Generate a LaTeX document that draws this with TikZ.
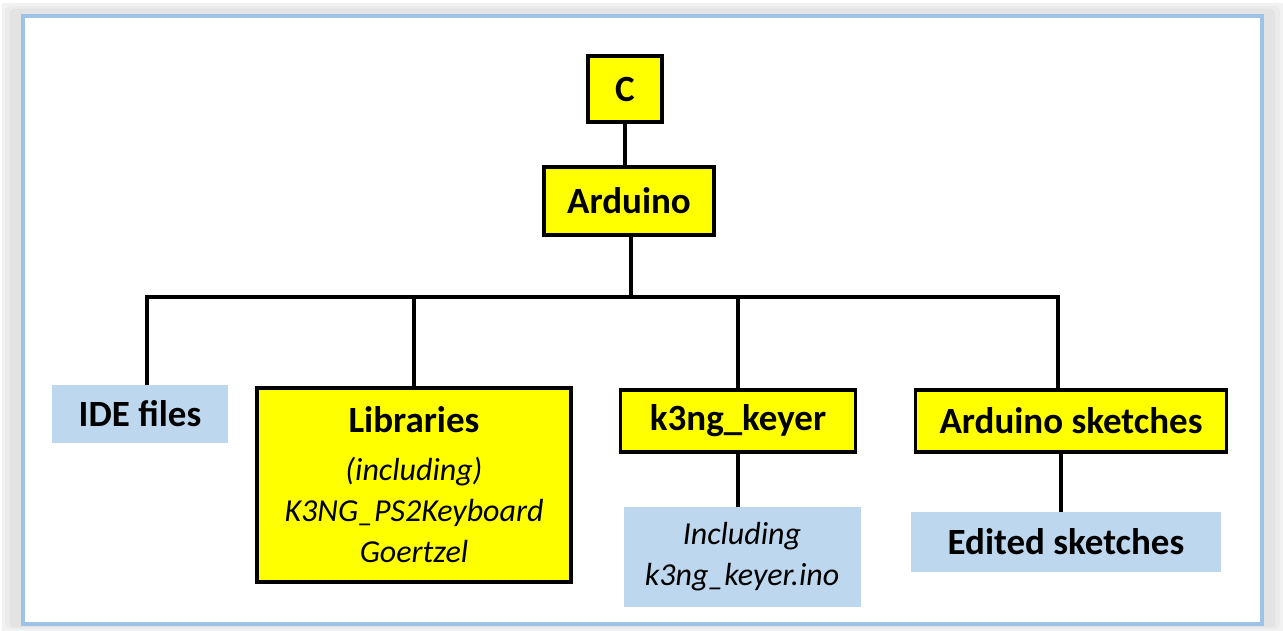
\documentclass[tikz,border=0pt]{standalone}
\usepackage{fontspec}
\setmainfont{Carlito}
\definecolor{yel}{RGB}{255,255,0}
\definecolor{lblue}{RGB}{189,215,238}
\definecolor{frameblue}{RGB}{157,195,230}
\tikzset{
  ybox/.style={draw=black, line width=3.3pt, fill=yel, inner sep=0pt, align=center,
    font=\fontsize{37}{41}\selectfont\bfseries},
  bbox/.style={draw=none, fill=lblue, inner sep=0pt, align=center,
    font=\fontsize{37}{41}\selectfont\bfseries},
  conn/.style={line width=3.3pt, black},
}
\begin{document}
\begin{tikzpicture}[x=1pt,y=-1pt]
\useasboundingbox (0,0) rectangle (1283,631);
% shadow
\fill[gray!10] (2,3) rectangle (1283,631);
\fill[gray!16, rounded corners=6pt] (5,6) rectangle (1280,629);
\fill[gray!22, rounded corners=4pt] (10,9) rectangle (1275,627);
% frame
\fill[white] (23,16) rectangle (1262,624);
\draw[frameblue, line width=4pt] (23,16) rectangle (1262,624);

% nodes
\node[ybox, minimum width=74, minimum height=66] (c) at (625,89) {C};
\node[ybox, minimum width=170, minimum height=68] (ard) at (629,201) {Arduino};
\node[bbox, minimum width=176, minimum height=58] (ide) at (140,414) {IDE files};
\node[ybox, minimum width=314, minimum height=194] (lib) at (414,485)
  {Libraries\\[7pt]{\fontsize{32}{41}\selectfont\mdseries\itshape (including)}\\
   {\fontsize{32}{41}\selectfont\mdseries\itshape K3NG\_PS2Keyboard}\\
   {\fontsize{32}{41}\selectfont\mdseries\itshape Goertzel}};
\node[ybox, minimum width=235, minimum height=62] (keyer) at (738,421) {k3ng\_keyer};
\node[ybox, minimum width=311, minimum height=62] (sk) at (1071,421) {Arduino sketches};
\node[bbox, minimum width=237, minimum height=100,
  font=\fontsize{32}{41}\selectfont\itshape] (inc) at (742,557) {Including\\k3ng\_keyer.ino};
\node[bbox, minimum width=310, minimum height=60] (ed) at (1066,542) {Edited sketches};

% connectors
\coordinate (bus) at (631,297);
\coordinate (busL) at (147,297);
\coordinate (busR) at (1058,297);
\coordinate (skdrop) at (1061,452);
\draw[conn] (c.south) -- (c.south |- ard.north);
\draw[conn] (ard.south -| bus) -- (bus);
\draw[conn, line cap=rect] (busL) -- (busR);
\draw[conn] (busL) -- (busL |- ide.north);
\draw[conn] (busL -| lib.north) -- (lib.north);
\draw[conn] (busL -| keyer.north) -- (keyer.north);
\draw[conn] (busR) -- (busR |- sk.north);
\draw[conn] (keyer.south) -- (keyer.south |- inc.north);
\draw[conn] (skdrop) -- (skdrop |- ed.north);
\end{tikzpicture}
\end{document}
